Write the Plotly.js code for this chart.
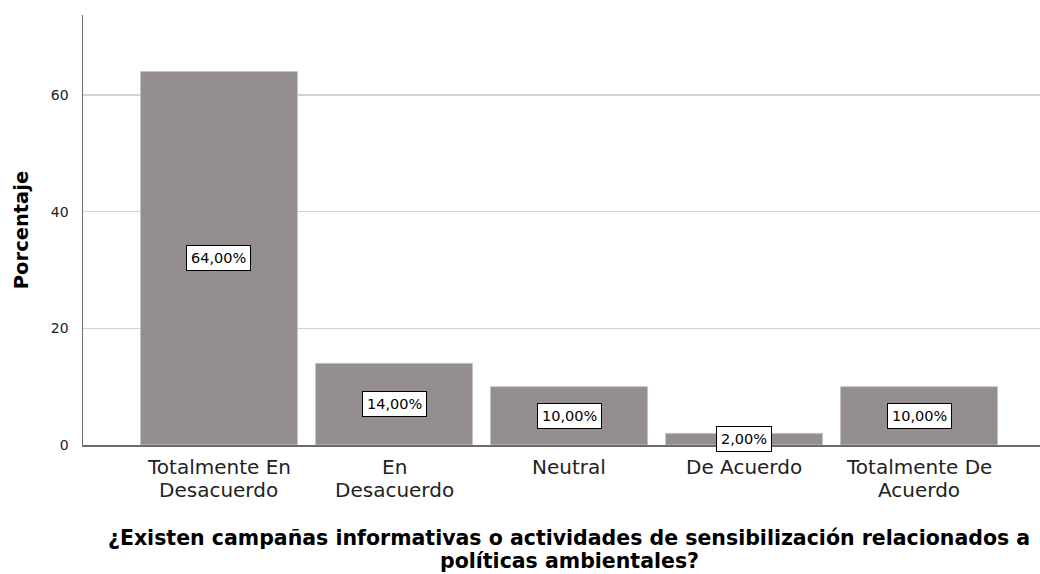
<!DOCTYPE html>
<html>
<head>
<meta charset="utf-8">
<script src="https://cdn.plot.ly/plotly-3.0.1.min.js"></script>
<style>
  html, body { margin: 0; padding: 0; background: #ffffff; overflow: hidden; }
  #chart { width: 1040px; height: 574px; }
</style>
</head>
<body>
<div id="chart"></div>
<script>
// ---- data ----
const categories = ["Totalmente En Desacuerdo", "En Desacuerdo", "Neutral", "De Acuerdo", "Totalmente De Acuerdo"];
const categoryLines = [["Totalmente En", "Desacuerdo"], ["En", "Desacuerdo"], ["Neutral"], ["De Acuerdo"], ["Totalmente De", "Acuerdo"]];
const percentages = [64, 14, 10, 2, 10];
const percentLabels = ["64,00%", "14,00%", "10,00%", "2,00%", "10,00%"];
const yTickValues = [0, 20, 40, 60];
const yTitle = "Porcentaje";
const xTitleLines = ["¿Existen campañas informativas o actividades de sensibilización relacionados a", "políticas ambientales?"];

// ---- styles ----
const FONT = "DejaVu Sans, Liberation Sans, Arial, sans-serif";
const BAR_COLOR = "#948f8e";

const trace = {
  type: "bar",
  x: categories,
  y: percentages,
  marker: { color: BAR_COLOR, line: { color: "#c6c2c1", width: 1 } },
  hoverinfo: "skip"
};

const annotations = [];
// value labels centred in each bar
categories.forEach((c, i) => {
  annotations.push({
    x: c, y: percentages[i] / 2, xref: "x", yref: "y",
    text: percentLabels[i], showarrow: false,
    font: { family: FONT, size: 14.5, color: "#000000" },
    bgcolor: "#ffffff", bordercolor: "#000000", borderwidth: 1, borderpad: 4,
    xanchor: "center", yanchor: "middle"
  });
});
// category labels (two lines, tight spacing)
categoryLines.forEach((lines, i) => {
  lines.forEach((ln, j) => {
    annotations.push({
      x: categories[i], y: 0, xref: "x", yref: "paper",
      text: ln, showarrow: false,
      font: { family: FONT, size: 20, color: "#222222" },
      xanchor: "center", yanchor: "top", yshift: -8 - 23 * j
    });
  });
});
// x-axis title, two lines
xTitleLines.forEach((ln, j) => {
  annotations.push({
    x: 0.508, y: 0, xref: "paper", yref: "paper",
    text: "<b>" + ln + "</b>", showarrow: false,
    font: { family: FONT, size: 20.5, color: "#000000" },
    xanchor: "center", yanchor: "top", yshift: -79 - 23 * j
  });
});

const layout = {
  width: 1040, height: 574,
  margin: { l: 83, r: 0, t: 15, b: 129, pad: 0 },
  paper_bgcolor: "#ffffff", plot_bgcolor: "#ffffff",
  showlegend: false,
  bargap: 0.103,
  font: { family: FONT },
  xaxis: {
    type: "category",
    range: [-0.777, 4.691],
    showticklabels: false,
    ticks: "",
    showgrid: false,
    zeroline: false,
    showline: true, linecolor: "#6b6b6b", linewidth: 1.5,
    fixedrange: true
  },
  yaxis: {
    range: [0, 73.7],
    tickvals: yTickValues,
    ticktext: yTickValues.map(String),
    ticks: "",
    ticklabelstandoff: 10,
    tickfont: { family: FONT, size: 14, color: "#222222" },
    showgrid: true, gridcolor: "#d3d3d3", gridwidth: 1.5,
    zeroline: false,
    showline: true, linecolor: "#6b6b6b", linewidth: 1.5,
    title: { text: "<b>" + yTitle + "</b>", font: { family: FONT, size: 19.5, color: "#000000" }, standoff: 17 },
    fixedrange: true
  },
  annotations: annotations
};

Plotly.newPlot("chart", [trace], layout, { displayModeBar: false, staticPlot: true });
</script>
</body>
</html>
